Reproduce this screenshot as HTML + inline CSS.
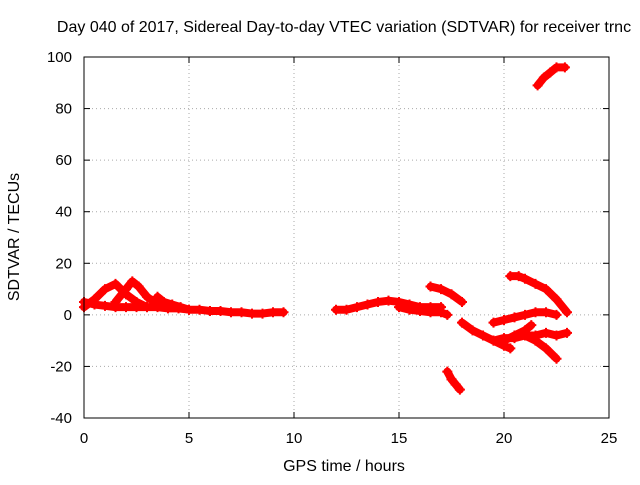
<!DOCTYPE html>
<html><head><meta charset="utf-8"><style>
body{margin:0;background:#fff}
svg text{font-family:"Liberation Sans",sans-serif;font-size:15px;fill:#000}
svg text.big{font-size:16px}
</style></head><body>
<svg id="chart" width="640" height="480">
<text class="big" x="344" y="32" text-anchor="middle">Day 040 of 2017, Sidereal Day-to-day VTEC variation (SDTVAR) for receiver trnc</text>
<text class="big" x="344" y="471" text-anchor="middle">GPS time / hours</text>
<text class="big" transform="translate(19,237) rotate(-90)" text-anchor="middle">SDTVAR / TECUs</text>
<g id="grid"></g><g id="marks"></g>
<rect x="84" y="57" width="525" height="361" fill="none" stroke="#000"/>
</svg>
<script>
const xTicks=[0,5,10,15,20,25];
const yTicks=[-40,-20,0,20,40,60,80,100];
const trackA_x=[0,0.5,1,1.5,2,2.5,3,3.5,4,4.5,5,5.5,6,6.5,7,7.5,8,8.5,9,9.5];
const trackA_y=[5,4,3.5,3,3,3,3,3,2.5,2.5,2,2,1.5,1.5,1,1,0.5,0.5,1,1];
const trackB_x=[0,0.5,1,1.5,2,2.5,3];
const trackB_y=[3,6,10,12,8,5,3];
const trackC_x=[1.5,2,2.3,2.6,3,3.5,4];
const trackC_y=[5,10,13,11,7,4,3];
const trackD_x=[3.5,3.8,4.2,4.6,5];
const trackD_y=[7,5,4,3,2];
const trackE_x=[12,12.5,13,13.5,14,14.5,15,15.5,16,16.5,17];
const trackE_y=[2,2,3,4,5,5.5,5,4,3,3,3];
const trackF_x=[15,15.5,16,16.5,17,17.3];
const trackF_y=[3,2,1.5,1,1,0];
const trackG_x=[16.5,17,17.5,18];
const trackG_y=[11,10,8,5];
const trackH_x=[17.3,17.5,17.7,17.9];
const trackH_y=[-22,-25,-27,-29];
const trackI_x=[18,18.5,19,19.5,20,20.3];
const trackI_y=[-3,-6,-8,-10,-12,-13];
const trackK_x=[19.5,20,20.5,21,21.5,22,22.5,23];
const trackK_y=[-10,-9,-9,-8,-8,-7,-8,-7];
const trackL_x=[19.5,20,20.5,21,21.5,22,22.5];
const trackL_y=[-3,-2,-1,0,1,1,0];
const trackM_x=[20.3,20.7,21,21.5,22,22.5,23];
const trackM_y=[15,15,14,12,10,6,1];
const trackN_x=[21,21.5,22,22.5];
const trackN_y=[-8,-10,-13,-17];
const trackO_x=[20,20.5,21,21.3];
const trackO_y=[-10,-8,-6,-4];
const trackP_x=[21.6,21.9,22.2,22.5,22.9];
const trackP_y=[89,92,94,96,96];
const tracks=[[trackA_x,trackA_y],[trackB_x,trackB_y],[trackC_x,trackC_y],[trackD_x,trackD_y],[trackE_x,trackE_y],[trackF_x,trackF_y],[trackG_x,trackG_y],[trackH_x,trackH_y],[trackI_x,trackI_y],[trackK_x,trackK_y],[trackL_x,trackL_y],[trackM_x,trackM_y],[trackN_x,trackN_y],[trackO_x,trackO_y],[trackP_x,trackP_y]];
const NS="http://www.w3.org/2000/svg";
const X=v=>84+v*(525/25), Y=v=>418-(v+40)*(361/140);
const grid=document.getElementById('grid'), marks=document.getElementById('marks'), svg=document.getElementById('chart');
function mk(t,a,p){const e=document.createElementNS(NS,t);for(const k in a)e.setAttribute(k,a[k]);p.appendChild(e);return e;}
xTicks.forEach(v=>{
 if(v>0&&v<25){const g=mk('line',{x1:X(v),x2:X(v),y1:57,y2:418,stroke:'#aaa','stroke-dasharray':'1,3'},grid);
 
 }
 mk('line',{x1:X(v),x2:X(v),y1:418,y2:412,stroke:'#000'},grid);
 mk('line',{x1:X(v),x2:X(v),y1:57,y2:63,stroke:'#000'},grid);
 const t=mk('text',{x:X(v),y:443,'text-anchor':'middle'},svg);t.textContent=v;
 
 
});
yTicks.forEach(v=>{
 if(v>-40&&v<100){const g=mk('line',{x1:84,x2:609,y1:Y(v),y2:Y(v),stroke:'#aaa','stroke-dasharray':'1,3'},grid);
 
 }
 mk('line',{x1:84,x2:90,y1:Y(v),y2:Y(v),stroke:'#000'},grid);
 mk('line',{x1:603,x2:609,y1:Y(v),y2:Y(v),stroke:'#000'},grid);
 const t=mk('text',{x:72,y:Y(v)+5,'text-anchor':'end'},svg);t.textContent=v;
 
 
});
tracks.forEach(([xs,ys])=>{
 const pl=mk('polyline',{points:xs.map((x,i)=>X(x)+','+Y(ys[i])).join(' '),fill:'none',stroke:'#f00','stroke-width':8,'stroke-linejoin':'round','stroke-linecap':'round'},marks);
 
 
 xs.forEach((x,i)=>{
  const px=X(x),py=Y(ys[i]);
  const p=mk('path',{d:`M${px-5},${py}H${px+5}M${px},${py-5}V${py+5}`,stroke:'#f00','stroke-width':2},marks);
  
  
 });
});
</script>
</body></html>
